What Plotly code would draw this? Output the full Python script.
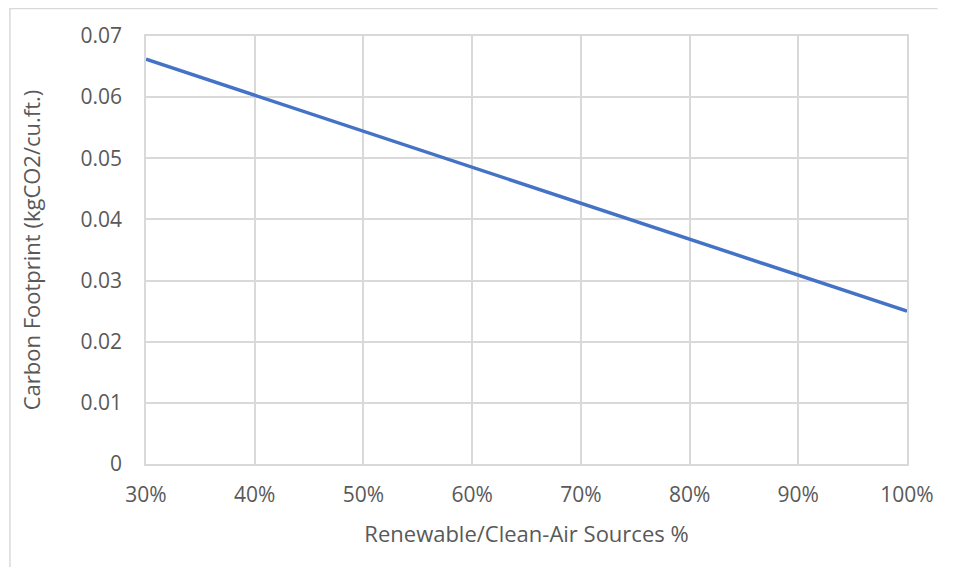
import plotly.graph_objects as go

renewable_share = [0.30, 0.40, 0.50, 0.60, 0.70, 0.80, 0.90, 1.00]
carbon_footprint = [0.0662, 0.0603, 0.0544, 0.0485, 0.0426, 0.0368, 0.0309, 0.0250]

y_tickvals = [0, 0.01, 0.02, 0.03, 0.04, 0.05, 0.06, 0.07]
y_ticktext = ["0", "0.01", "0.02", "0.03", "0.04", "0.05", "0.06", "0.07"]
x_tickvals = [0.3, 0.4, 0.5, 0.6, 0.7, 0.8, 0.9, 1.0]
x_ticktext = ["30%", "40%", "50%", "60%", "70%", "80%", "90%", "100%"]

grid = "#d9d9d9"
txt = "#595959"
font = "Open Sans"

fig = go.Figure()
fig.add_trace(go.Scatter(x=renewable_share, y=carbon_footprint, mode="lines",
                         line=dict(color="#4472C4", width=3.5), hoverinfo="skip"))

# page offset of ~8px (body margin) taken into account
W, H = 938, 559
L, R, T, B = 138, 31, 28, 103
pw, ph = W - L - R, H - T - B

fig.update_layout(
    width=W, height=H,
    margin=dict(l=L, r=R, t=T, b=B),
    paper_bgcolor="white", plot_bgcolor="white",
    showlegend=False,
    font=dict(family=font, color=txt, size=21),
    xaxis=dict(range=[0.3, 1.0], tickvals=x_tickvals, ticktext=x_ticktext,
               showgrid=True, gridcolor=grid, gridwidth=1.5,
               showline=True, linecolor=grid, linewidth=1.5, mirror=True,
               zeroline=False, ticks="outside", ticklen=11, tickcolor="rgba(0,0,0,0)",
               tickfont=dict(size=21, color=txt, family=font),
               title=dict(text="Renewable/Clean-Air Sources %", standoff=20,
                          font=dict(size=22, color=txt, family=font))),
    yaxis=dict(range=[0, 0.07], tickvals=y_tickvals, ticktext=y_ticktext,
               showgrid=True, gridcolor=grid, gridwidth=1.5,
               showline=True, linecolor=grid, linewidth=1.5, mirror=True,
               zeroline=False, ticks="outside", ticklen=18, tickcolor="rgba(0,0,0,0)",
               tickfont=dict(size=21, color=txt, family=font),
               title=dict(text="Carbon Footprint (kgCO2/cu.ft.)", standoff=34,
                          font=dict(size=22, color=txt, family=font))),
    shapes=[
        dict(type="line", xref="paper", yref="paper",
             x0=(0 - L) / pw, x1=(W - L) / pw, y0=1 + (T - 0.5) / ph, y1=1 + (T - 0.5) / ph,
             line=dict(color=grid, width=1.5)),
        dict(type="line", xref="paper", yref="paper",
             x0=(0.5 - L) / pw, x1=(0.5 - L) / pw, y0=1 + T / ph, y1=-B / ph,
             line=dict(color=grid, width=1.5)),
    ],
)

fig.write_html("out.html")
